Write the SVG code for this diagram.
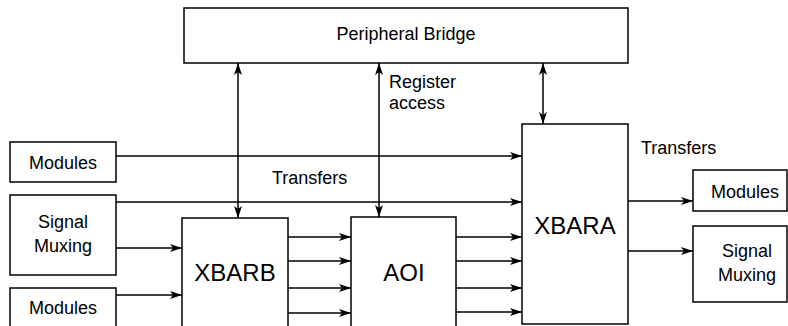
<svg xmlns="http://www.w3.org/2000/svg" width="788" height="326" viewBox="0 0 788 326">
<defs>
<style>
.box{fill:#fff;stroke:#000;stroke-width:1.5}
.t{font-family:"Liberation Sans",Arial,sans-serif;font-size:18px;fill:#000}
.big{font-family:"Liberation Sans",Arial,sans-serif;font-size:24px;fill:#000}
.c{text-anchor:middle}
.ln{stroke:#000;stroke-width:1.5;fill:none;marker-end:url(#ah)}
.bi{marker-start:url(#ah)}
</style>
<marker id="ah" viewBox="0 0 12 8" refX="12" refY="4" markerWidth="12" markerHeight="8" markerUnits="userSpaceOnUse" orient="auto-start-reverse">
<path d="M0,0 L12,4 L0,8 L3,4 z" fill="#000"/>
</marker>
</defs>
<g id="connectors">
<line class="ln" x1="116" y1="156" x2="522" y2="156"/>
<line class="ln" x1="116" y1="202" x2="522" y2="202"/>
<line class="ln" x1="116" y1="248" x2="182" y2="248"/>
<line class="ln" x1="116" y1="295" x2="182" y2="295"/>
<line class="ln" x1="288" y1="237" x2="351" y2="237"/>
<line class="ln" x1="288" y1="261" x2="351" y2="261"/>
<line class="ln" x1="288" y1="288" x2="351" y2="288"/>
<line class="ln" x1="288" y1="313" x2="351" y2="313"/>
<line class="ln" x1="456" y1="237" x2="522" y2="237"/>
<line class="ln" x1="456" y1="261" x2="522" y2="261"/>
<line class="ln" x1="456" y1="288" x2="522" y2="288"/>
<line class="ln" x1="456" y1="312" x2="522" y2="312"/>
<line class="ln" x1="628" y1="201" x2="693" y2="201"/>
<line class="ln" x1="628" y1="251" x2="693" y2="251"/>
<line class="ln bi" x1="238" y1="63" x2="238" y2="218"/>
<line class="ln bi" x1="379" y1="63" x2="379" y2="217"/>
<line class="ln bi" x1="543" y1="63" x2="543" y2="124"/>
<text class="t" x="272" y="184">Transfers</text>
<text class="t" x="641" y="154">Transfers</text>
<text class="t" x="389" y="88">Register</text>
<text class="t" x="389" y="109">access</text>
</g>
<g id="peripheral-bridge">
<rect class="box" x="184" y="8" width="444" height="55"/>
<text class="t c" x="406" y="40">Peripheral Bridge</text>
</g>
<g id="modules-top-left">
<rect class="box" x="10" y="142" width="106" height="40"/>
<text class="t c" x="63" y="169">Modules</text>
</g>
<g id="signal-muxing-left">
<rect class="box" x="10" y="195" width="106" height="80"/>
<text class="t c" x="63" y="228">Signal</text>
<text class="t c" x="63" y="252">Muxing</text>
</g>
<g id="modules-bottom-left">
<rect class="box" x="10" y="288" width="106" height="42"/>
<text class="t c" x="63" y="314">Modules</text>
</g>
<g id="xbarb">
<rect class="box" x="182" y="218" width="106" height="112"/>
<text class="big c" x="235" y="281">XBARB</text>
</g>
<g id="aoi">
<rect class="box" x="351" y="217" width="105" height="113"/>
<text class="big c" x="404" y="281">AOI</text>
</g>
<g id="xbara">
<rect class="box" x="522" y="124" width="106" height="200"/>
<text class="big c" x="575" y="234">XBARA</text>
</g>
<g id="modules-right">
<rect class="box" x="693" y="170" width="94" height="41"/>
<text class="t c" x="745" y="198">Modules</text>
</g>
<g id="signal-muxing-right">
<rect class="box" x="693" y="226" width="94" height="76"/>
<text class="t c" x="747" y="257">Signal</text>
<text class="t c" x="747" y="281">Muxing</text>
</g>
</svg>
